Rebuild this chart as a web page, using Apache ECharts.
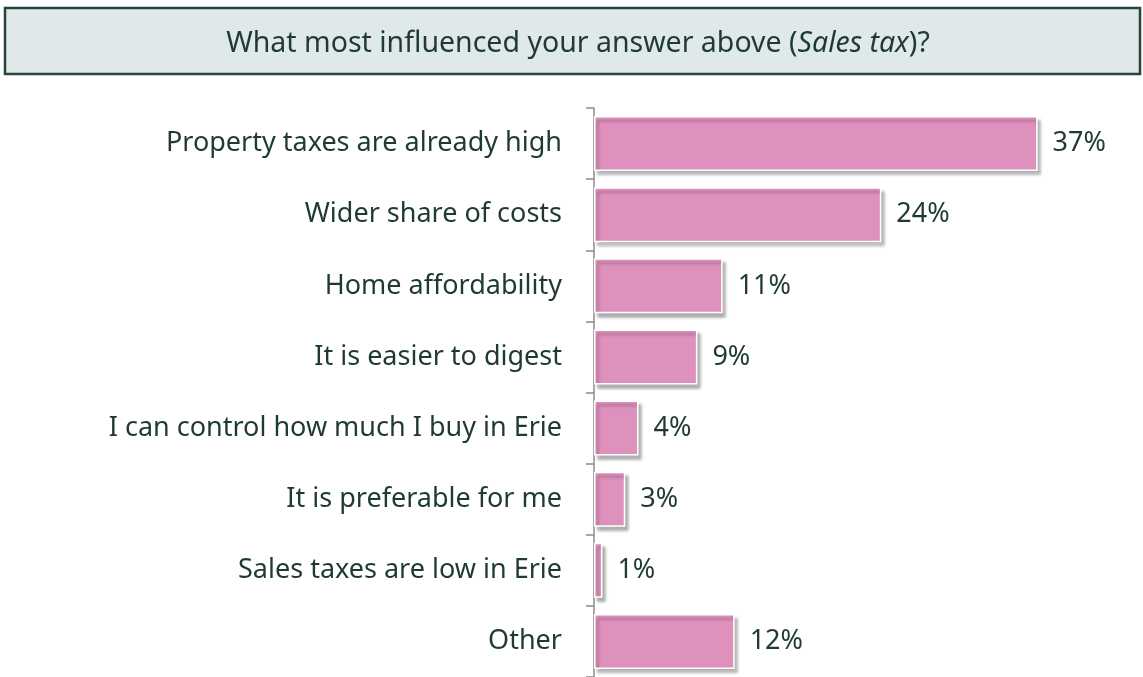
<!DOCTYPE html>
<html style="height: 100%">

<head>
    <meta charset="utf-8">
    <title>Sales tax</title>
    <style>
        html, body {
            margin: 0;
            padding: 0;
            background: #fff;
        }

        #container {
            width: 1143px;
            height: 677px;
        }
    </style>
</head>

<body>
    <div id="container"></div>
</body>
<script src="https://cdn.jsdelivr.net/npm/echarts@6/dist/echarts.min.js"></script>
<script type="text/javascript">
    var categories = [
        'Property taxes are already high',
        'Wider share of costs',
        'Home affordability',
        'It is easier to digest',
        'I can control how much I buy in Erie',
        'It is preferable for me',
        'Sales taxes are low in Erie',
        'Other'
    ];
    // share of answers, % (bar lengths)
    var shares = [36.9, 23.9, 10.7, 8.6, 3.7, 2.6, 0.7, 11.7];

    var textColor = '#1f3a36';
    var font = '"Noto Sans", "Open Sans", sans-serif';

    var dom = document.getElementById("container");
    var myChart = echarts.init(dom);

    myChart.setOption({
        animation: false,
        backgroundColor: '#fff',
        graphic: [{
            type: 'rect',
            shape: { x: 5, y: 8, width: 1135, height: 66 },
            style: { fill: '#dfe9ea', stroke: '#27443e', lineWidth: 2.5 }
        }, {
            type: 'text',
            x: 578,
            y: 44,
            style: {
                text: '{a|What most influenced your answer above (}{b|Sales tax}{a|)?}',
                align: 'center',
                verticalAlign: 'middle',
                rich: {
                    a: { fontSize: 28.5, fontFamily: font, fill: textColor, color: textColor },
                    b: { fontSize: 28.5, fontFamily: font, fontStyle: 'italic', fill: textColor, color: textColor }
                }
            }
        }],
        grid: {
            left: 594,
            top: 108,
            width: 541,
            height: 576
        },
        xAxis: {
            type: 'value',
            min: 0,
            max: 45,
            show: false
        },
        yAxis: {
            type: 'category',
            inverse: true,
            data: categories,
            axisLine: { show: true, lineStyle: { color: '#8c8c8c', width: 1.5 } },
            axisTick: { show: true, inside: false, length: 8, lineStyle: { color: '#8c8c8c', width: 1.5 } },
            axisLabel: {
                margin: 32,
                fontSize: 27,
                fontFamily: font,
                color: textColor
            }
        },
        series: [{
            type: 'bar',
            data: shares,
            barWidth: 55,
            itemStyle: {
                color: '#df91bd',
                borderColor: '#fff',
                borderWidth: 1.5,
                shadowColor: 'rgba(0,0,0,0.3)',
                shadowBlur: 3,
                shadowOffsetX: 3,
                shadowOffsetY: 4
            },
            label: {
                show: true,
                position: 'right',
                distance: 15,
                fontSize: 27,
                fontFamily: font,
                color: textColor,
                formatter: function (p) {
                    return Math.round(p.value) + '%';
                }
            }
        }]
    });
</script>

</html>
